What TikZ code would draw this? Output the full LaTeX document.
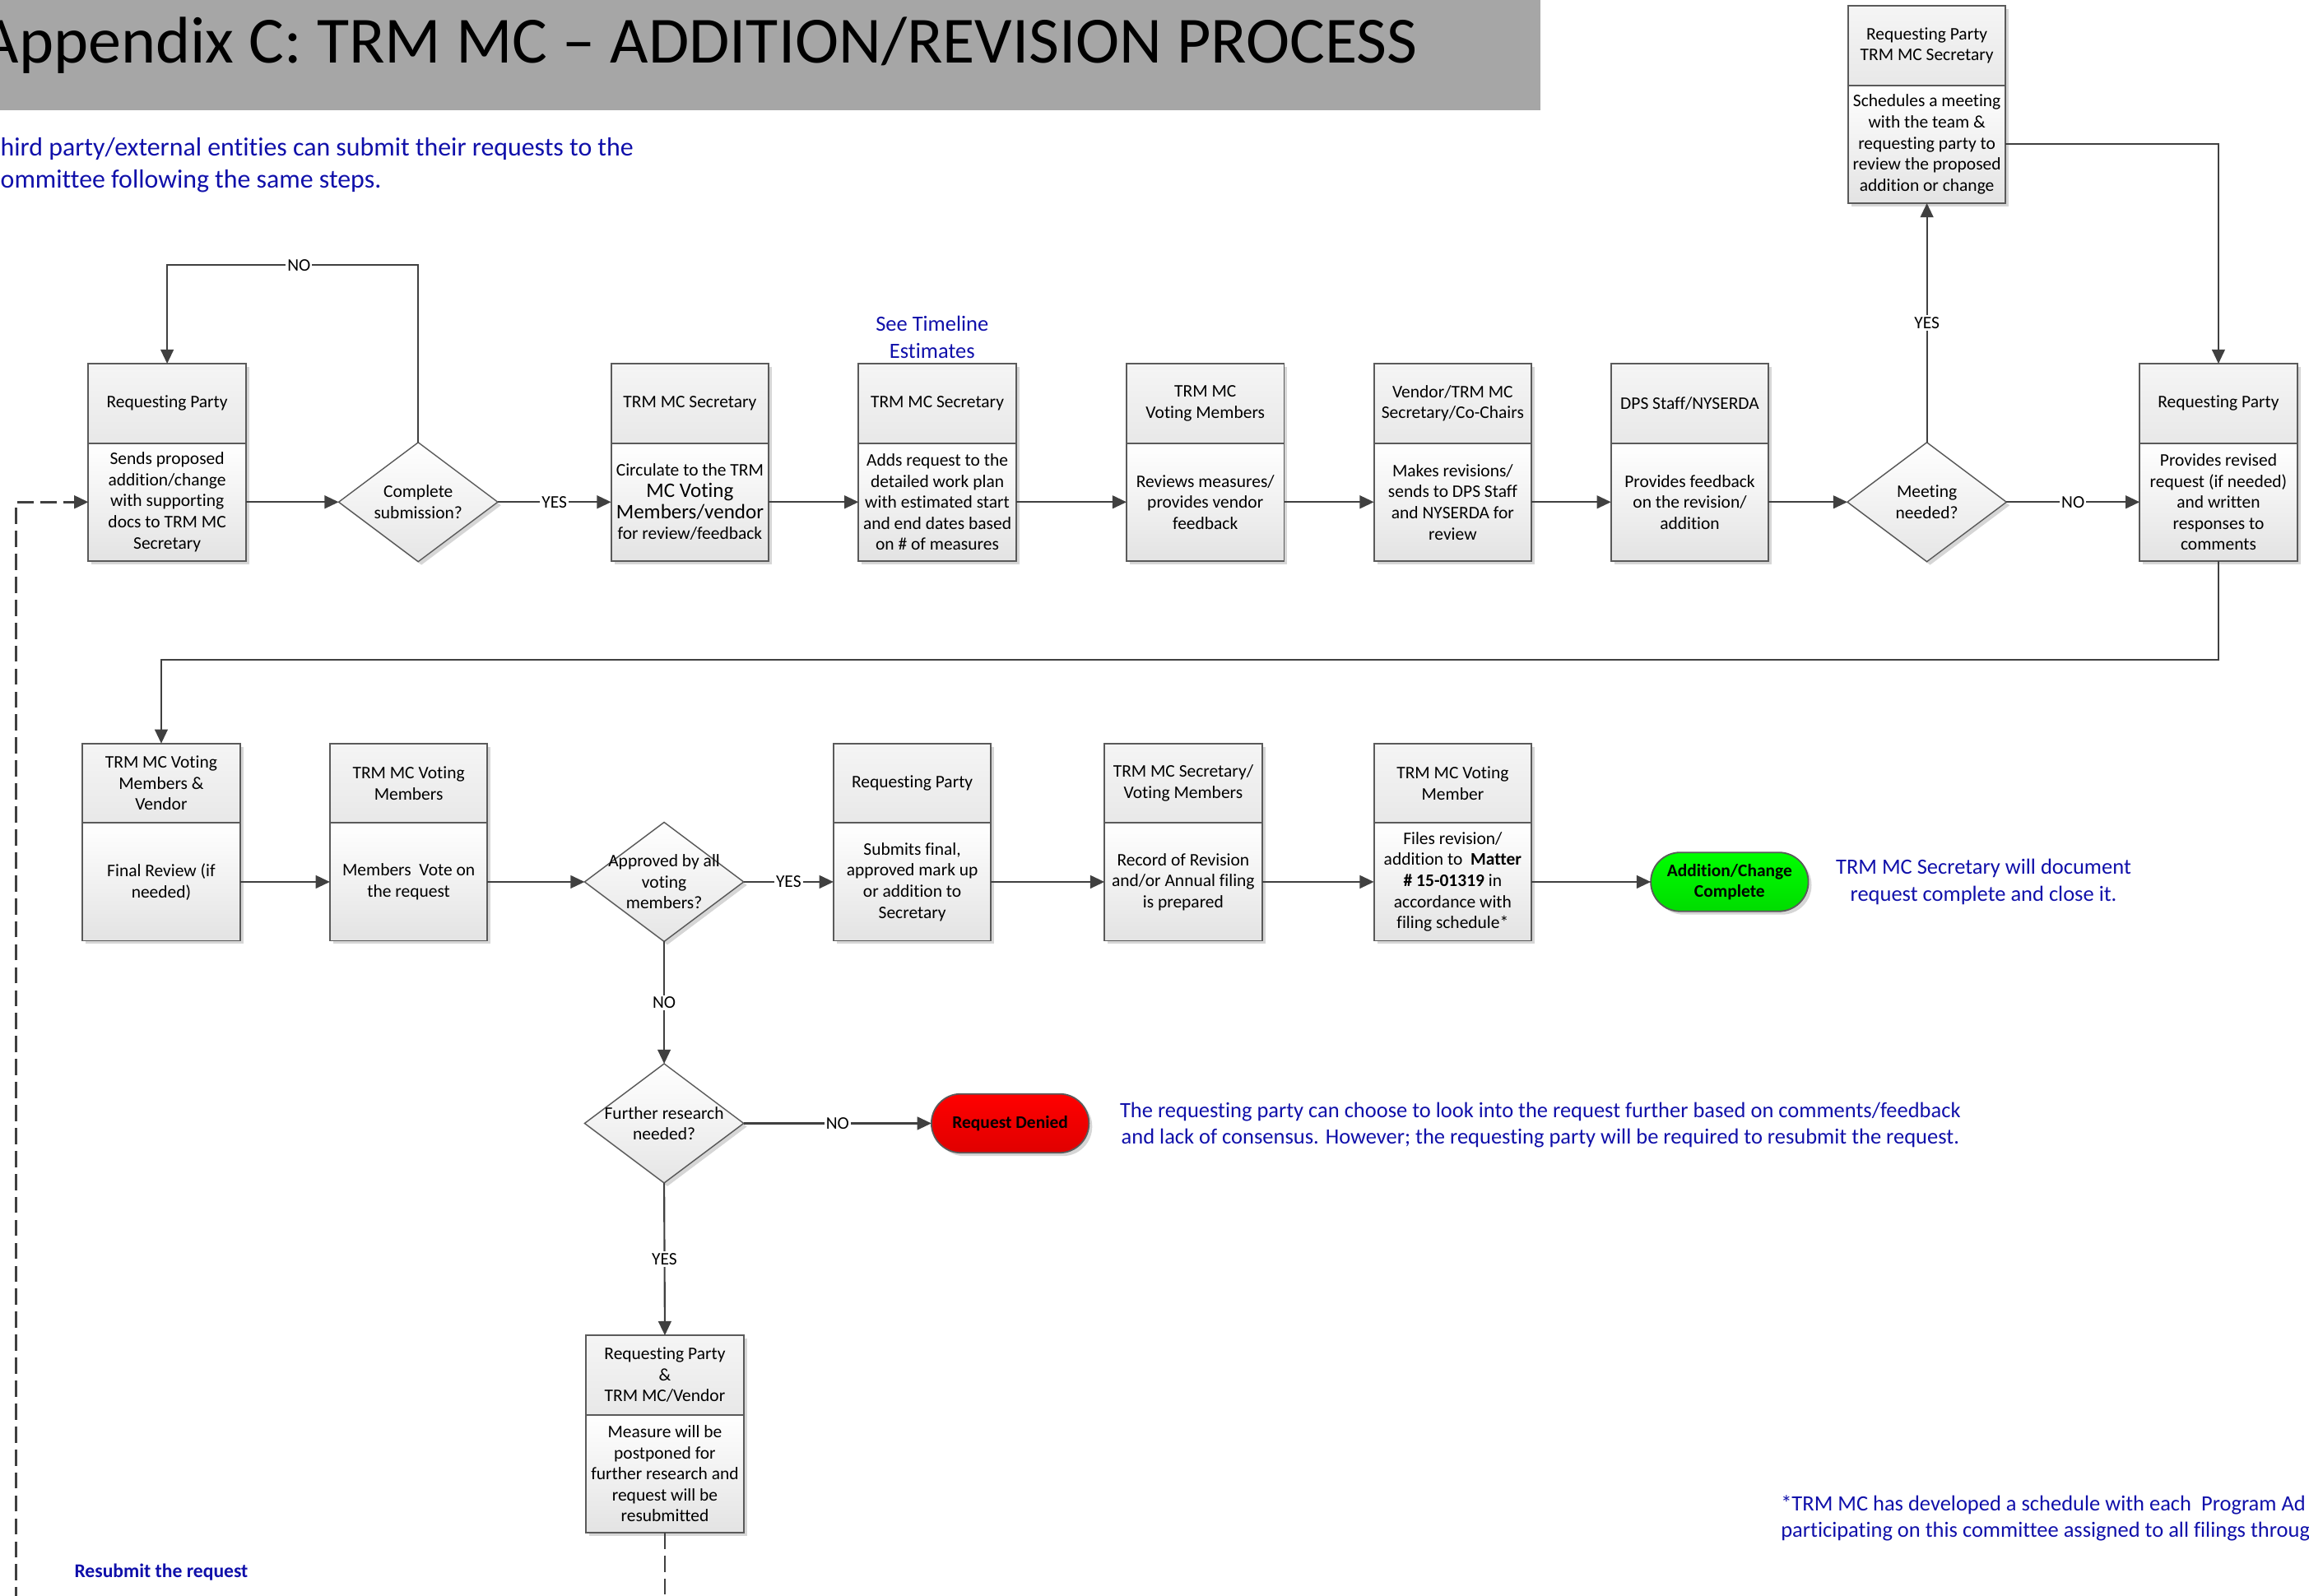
\documentclass[tikz,border=0pt]{standalone}
\usepackage{fontspec}
\setmainfont{Carlito}[Ligatures={NoCommon}]
\usetikzlibrary{shapes.geometric,arrows.meta,shadows}
\definecolor{linec}{HTML}{404040}
\definecolor{boxline}{HTML}{5A5A5A}
\definecolor{titlegray}{HTML}{A6A6A6}
\definecolor{bluetxt}{RGB}{16,16,170}
\definecolor{redfill}{HTML}{FF0000}
\definecolor{redlow}{HTML}{E00000}
\definecolor{greenfill}{HTML}{00FF00}
\definecolor{greenlow}{HTML}{00DC00}
\newcommand\boxfont{\fontsize{6}{7.15}\selectfont}
\newcommand\bluefont{\fontsize{7.4}{9}\selectfont}
\newcommand\bigline{\fontsize{7}{8}\selectfont}
\tikzset{
  shad/.style={drop shadow={shadow xshift=1.1pt,shadow yshift=-1.1pt,fill=black!16,opacity=1}},
  hdr/.style={draw=boxline, line width=0.5pt, top color=black!4, bottom color=black!9,
    minimum width=53.5pt, minimum height=27pt, inner sep=1pt, outer sep=0pt, align=center, font=\boxfont, shad},
  bdy/.style={hdr, top color=white, bottom color=black!11, minimum height=40pt},
  dia/.style={diamond, draw=boxline, line width=0.4pt, top color=white, bottom color=black!10,
    minimum width=54pt, minimum height=40.5pt, inner sep=0pt, outer sep=0pt, shad},
  diatext/.style={align=center, font=\boxfont, inner sep=0pt},
  term/.style={draw=boxline, line width=0.5pt, rounded corners=10pt, minimum width=53.5pt,
    minimum height=20pt, font=\boxfont\bfseries, align=center, inner sep=1pt, outer sep=0pt, shad},
  conn/.style={draw=linec, line width=0.6pt, -{Triangle[length=4.8pt,width=4.4pt]}},
  dconn/.style={conn, line width=0.7pt, dash pattern=on 5.5pt off 2.3pt},
  lbl/.style={fill=white, inner sep=0.6pt, font=\boxfont, text=black},
  bluenote/.style={text=bluetxt, inner sep=0pt},
}
\newcommand\pbox[5]{%
  \node[hdr, anchor=north west] (#1h) at (#2,#3) {#4};
  \node[bdy, anchor=north] (#1b) at (#1h.south) {#5};
}
\begin{document}
\begin{tikzpicture}[x=0.5pt,y=-0.5pt]
\useasboundingbox (0,0) rectangle (1568,1084);
\clip (0,0) rectangle (1568,1084);
% title
\fill[titlegray] (0,0) rectangle (1046,75);
\node[anchor=base east, inner sep=0, font=\fontsize{22.4}{26}\selectfont] (title) at (963,43)
  {Appendix C: TRM MC \textendash{} ADDITION/REVISION PROCESS};
\node[bluenote, anchor=west, align=left, font=\fontsize{8.9}{11}\selectfont] (intro) at (0,112)
  {hird party/external entities can submit their requests to the\\ommittee following the same steps.};

% row 1
\pbox{B1}{60}{247}{Requesting Party}{Sends proposed\\addition/change\\with supporting\\docs to TRM MC\\Secretary}
\node[dia] (D1) at (284,341) {};
\node[diatext] (D1t) at (D1) {Complete\\submission?};
\pbox{B2}{415}{247}{TRM MC Secretary}{Circulate to the TRM\\{\bigline MC Voting}\\{\bigline Members/vendor}\\for review/feedback}
\pbox{B3}{583}{247}{TRM MC Secretary}{Adds request to the\\detailed work plan\\with estimated start\\and end dates based\\on \# of measures}
\node[bluenote, align=center, font=\bluefont] (timeline) at (633,229) {See Timeline\\Estimates};
\pbox{B4}{765}{247}{TRM MC\\Voting Members}{Reviews measures/\\provides vendor\\feedback}
\pbox{B5}{933}{247}{Vendor/TRM MC\\Secretary/Co-Chairs}{Makes revisions/\\sends to DPS Staff\\and NYSERDA for\\review}
\pbox{B6}{1094}{247}{DPS Staff/NYSERDA}{Provides feedback\\on the revision/\\addition}
\node[dia] (D2) at (1308.5,341) {};
\node[diatext] (D2t) at (D2) {Meeting\\needed?};
\pbox{B7}{1255}{4}{Requesting Party\\TRM MC Secretary}{Schedules a meeting\\with the team \&\\requesting party to\\review the proposed\\addition or change}
\pbox{B8}{1453}{247}{Requesting Party}{Provides revised\\request (if needed)\\and written\\responses to\\comments}

% row 2
\pbox{C1}{56}{505}{TRM MC Voting\\Members \&\\Vendor}{Final Review (if\\needed)}
\pbox{C2}{224}{505}{TRM MC Voting\\Members}{Members\ \ Vote on\\the request}
\node[dia] (D3) at (451,599) {};
\node[diatext] (D3t) at (D3) {Approved by all\\voting\\members?};
\pbox{C3}{566}{505}{Requesting Party}{Submits final,\\approved mark up\\or addition to\\Secretary}
\pbox{C4}{750}{505}{TRM MC Secretary/\\Voting Members}{Record of Revision\\and/or Annual filing\\is prepared}
\pbox{C5}{933}{505}{TRM MC Voting\\Member}{Files revision/\\addition to\ \ \textbf{Matter}\\\textbf{\# 15-01319} in\\accordance with\\filing schedule*}
\node[term, top color=greenfill, bottom color=greenlow] (T1) at (1174.5,599) {Addition/Change\\Complete};
\node[bluenote, align=center, font=\bluefont] (closenote) at (1347,599)
  {TRM MC Secretary will document\\request complete and close it.};

% lower branch
\node[dia] (D4) at (451,763) {};
\node[diatext] (D4t) at (D4) {Further research\\needed?};
\node[term, top color=redfill, bottom color=redlow] (T2) at (686,763) {Request Denied};
\node[bluenote, align=center, font=\bluefont] (deniednote) at (1046,764)
  {The requesting party can choose to look into the request further based on comments/feedback\\and lack of consensus. However; the requesting party will be required to resubmit the request.};
\pbox{E1}{398}{907}{Requesting Party\\\&\\TRM MC/Vendor}{Measure will be\\postponed for\\further research and\\request will be\\resubmitted}
\node[bluenote, font=\fontsize{6.6}{8}\selectfont\bfseries] (resubmit) at (109.5,1068) {Resubmit the request};
\node[bluenote, anchor=west, align=left, font=\bluefont] (footnote) at (1209,1031)
  {*TRM MC has developed a schedule with each\ \ Program Ad\\participating on this committee assigned to all filings throug};

% helper coordinates
\coordinate (loopy) at (0,180);
\coordinate (gapy) at (0,448);
\coordinate (offb) at (0,1110);
\coordinate (leftx) at (11,0);

% connectors row 1
\draw[conn] (B1b.east) -- (D1.west);
\draw[conn] (D1.east) -- node[lbl]{YES} (B2b.west);
\draw[conn] (D1.north) -- (D1.north |- loopy) -- node[lbl,pos=0.475]{NO} (B1h.north |- loopy) -- (B1h.north);
\draw[conn] (B2b.east) -- (B3b.west);
\draw[conn] (B3b.east) -- (B4b.west);
\draw[conn] (B4b.east) -- (B5b.west);
\draw[conn] (B5b.east) -- (B6b.west);
\draw[conn] (B6b.east) -- (D2.west);
\draw[conn] (D2.north) -- node[lbl]{YES} (B7b.south);
\draw[conn] (B7b.east) -| (B8h.north);
\draw[conn] (D2.east) -- node[lbl]{NO} (B8b.west);
\draw[conn] (B8b.south) -- (B8b.south |- gapy) -- (C1h.north |- gapy) -- (C1h.north);

% connectors row 2
\draw[conn] (C1b.east) -- (C2b.west);
\draw[conn] (C2b.east) -- (D3.west);
\draw[conn] (D3.east) -- node[lbl]{YES} (C3b.west);
\draw[conn] (C3b.east) -- (C4b.west);
\draw[conn] (C4b.east) -- (C5b.west);
\draw[conn] (C5b.east) -- (T1.west);
\draw[conn] (D3.south) -- node[lbl]{NO} (D4.north);
\draw[conn] (D4.east) -- node[lbl]{NO} (T2.west);
\draw[conn] (D4.south) -- node[lbl]{YES} (E1h.north);

% resubmission loop
\draw[dconn] (E1b.south) -- (E1b.south |- offb) -- (leftx |- offb) -- (leftx |- B1b.west) -- (B1b.west);
\end{tikzpicture}
\end{document}
